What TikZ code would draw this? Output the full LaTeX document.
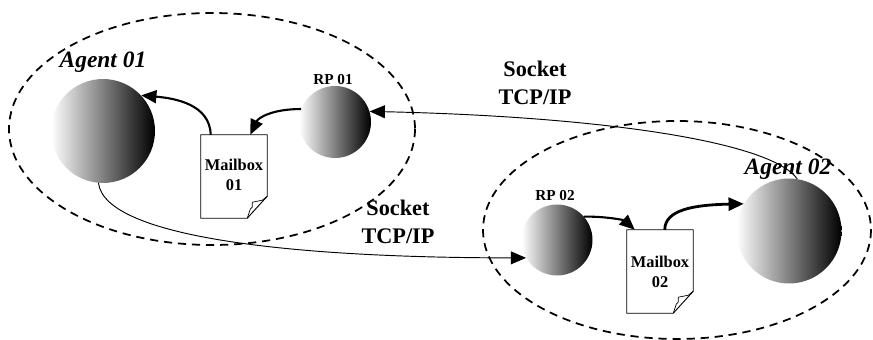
\documentclass[tikz,border=0pt]{standalone}
\usepackage{fontspec}
\setmainfont{Liberation Serif}
\usetikzlibrary{arrows.meta,calc}
\tikzset{
  zone/.style={dashed,line width=1.5pt,dash pattern=on 7pt off 5pt},
  sphere/.style={circle,inner sep=0pt,shading=axis,left color=white,right color=black},
  thinlink/.style={line width=0.8pt,-{Triangle[length=13pt,width=11pt]}},
  thicklink/.style={line width=1.8pt,-{Triangle[length=13pt,width=11pt]}},
  box/.style={draw=none,inner sep=0pt,minimum width=19.8mm,minimum height=24.9mm},
  lbl/.style={font=\bfseries,anchor=base,inner sep=0pt,align=center},
}
\begin{document}
\begin{tikzpicture}[x=0.3mm,y=-0.3mm]
\useasboundingbox (0,0) rectangle (873,340);
% zones
\draw[zone] (212,129) ellipse [x radius=203, y radius=116];
\draw[zone] (677,230) ellipse [x radius=194, y radius=109];
% spheres
\node[sphere,minimum size=31.2mm] (ag1) at (103,131) {};
\node[sphere,minimum size=21.6mm] (rp1) at (335,122) {};
\node[sphere,minimum size=31.5mm] (ag2) at (789,231) {};
\node[sphere,minimum size=21.3mm] (rp2) at (557,240) {};
% mailboxes
\node[box] (mb1) at (234,176.5) {};
\node[box] (mb2) at (660,271.5) {};
\foreach \m in {mb1,mb2}{
  \draw[line width=0.8pt] (\m.north west) -- (\m.north east) -- ($(\m.south east)+(0,-22)$)
     -- ($(\m.south east)+(-20,0)$) -- (\m.south west) -- cycle;
  \draw[line width=0.6pt] ($(\m.south east)+(-20,0)$) -- ($(\m.south east)+(-17,-9)$)
     -- ($(\m.south east)+(-15,-11)$) -- ($(\m.south east)+(-15,-16)$)
     -- ($(\m.south east)+(-10,-17)$) -- ($(\m.south east)+(-5,-18)$)
     -- ($(\m.south east)+(0,-22)$);
}
% labels
\node[lbl,font=\bfseries\itshape\fontsize{20}{24}\selectfont] (t1) at (103,68) {Agent 01};
\node[lbl,font=\bfseries\itshape\fontsize{20}{24}\selectfont] (t2) at (788,175) {Agent 02};
\node[lbl,font=\bfseries\fontsize{13}{16}\selectfont] (t3) at (333,85) {RP 01};
\node[lbl,font=\bfseries\fontsize{13}{16}\selectfont] (t4) at (555,200) {RP 02};
\node[lbl,font=\bfseries\fontsize{14}{17}\selectfont] (t5) at (234,190) {Mailbox\\01};
\node[lbl,font=\bfseries\fontsize{14}{17}\selectfont] (t6) at (660,287) {Mailbox\\02};
\node[lbl,font=\bfseries\fontsize{19}{24}\selectfont] (s1) at (535,105) {Socket\\TCP/IP};
\node[lbl,font=\bfseries\fontsize{19}{24}\selectfont] (s2) at (398,244) {Socket\\TCP/IP};
% connectors
\draw[thinlink] (ag1.265) .. controls +(7,56) and +(-223,0) .. (rp2.210);
\draw[thinlink] (ag2.81) .. controls +(-27,-38) and +(227,5) .. (rp1.17);
\draw[thicklink] (rp1.159) .. controls +(-29,0) and +(8,-17) .. ($(mb1.north east)+(-17,0)$);
\draw[thicklink] ($(mb1.north west)+(10,0)$) .. controls +(-1,-30) and +(35,3) .. (ag1.43);
\draw[thicklink] (rp2.41) .. controls +(27,0) and +(-10,-9) .. ($(mb2.north west)+(8,0)$);
\draw[thicklink,line width=2.4pt] ($(mb2.north west)+(38,0)$) .. controls +(0,-20) and +(-50,1) .. (ag2.149);
\end{tikzpicture}
\end{document}
